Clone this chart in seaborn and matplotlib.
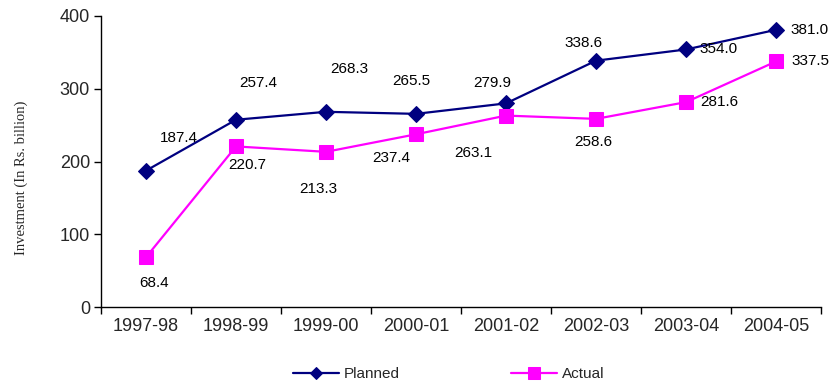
import matplotlib
matplotlib.use("Agg")
import matplotlib.pyplot as plt
from matplotlib.ticker import FixedLocator, NullFormatter
import seaborn as sns
import pandas as pd

years = ["1997-98", "1998-99", "1999-00", "2000-01", "2001-02", "2002-03", "2003-04", "2004-05"]
planned = [187.4, 257.4, 268.3, 265.5, 279.9, 338.6, 354.0, 381.0]
actual = [68.4, 220.7, 213.3, 237.4, 263.1, 258.6, 281.6, 337.5]

# label offsets in pixels (dx, dy) relative to each marker
planned_offsets = [(33, 33), (22, 37), (23, 43), (-5, 33), (-14, 20), (-12, 18), (33, 0), (34, 0)]
actual_offsets = [(8, -26), (11, -19), (-8, -37), (-25, -24), (-33, -37), (-3, -23), (33, 0), (34, 0)]

sns.set_theme(style="white")
plt.rcParams["font.family"] = ["Liberation Sans", "DejaVu Sans"]

df = pd.DataFrame({
    "pos": list(range(len(years))) * 2,
    "value": planned + actual,
    "series": ["Planned"] * len(years) + ["Actual"] * len(years),
})

colors = {"Planned": "#000080", "Actual": "#FF00FF"}
markers = {"Planned": "D", "Actual": "s"}
sizes = {"Planned": 8, "Actual": 10}

fig = plt.figure(figsize=(8.31, 3.85), dpi=100)
ax = fig.add_axes([101 / 831, 78 / 385, 720 / 831, 291 / 385])

for name in ["Planned", "Actual"]:
    sub = df[df["series"] == name]
    sns.lineplot(data=sub, x="pos", y="value", ax=ax, color=colors[name],
                 marker=markers[name], markersize=sizes[name], markeredgecolor=colors[name],
                 linewidth=1.6, label=name, legend=False)

for vals, offs in ((planned, planned_offsets), (actual, actual_offsets)):
    for i, (v, (dx, dy)) in enumerate(zip(vals, offs)):
        ax.annotate(f"{v:.1f}", (i, v), xytext=(dx, dy), textcoords="offset pixels",
                    ha="center", va="center", fontsize=11, color="black")

ax.set_xlim(-0.5, len(years) - 0.5)
ax.set_ylim(0, 400)
ax.set_yticks([0, 100, 200, 300, 400])
ax.xaxis.set_major_locator(FixedLocator([i - 0.5 for i in range(len(years) + 1)]))
ax.xaxis.set_major_formatter(NullFormatter())
ax.xaxis.set_minor_locator(FixedLocator(list(range(len(years)))))
ax.set_xticklabels(years, minor=True)
ax.tick_params(axis="x", which="major", direction="out", length=5, width=1, color="black", bottom=True)
ax.tick_params(axis="x", which="minor", length=0, pad=8, labelsize=13)
ax.tick_params(axis="y", direction="out", length=5, width=1, color="black", left=True, labelsize=13, pad=3)

for side in ("top", "right"):
    ax.spines[side].set_visible(False)
for side in ("left", "bottom"):
    ax.spines[side].set_color("black")
    ax.spines[side].set_linewidth(1)

ax.set_xlabel("")
ax.set_ylabel("Investment (In Rs. billion)", family="Liberation Serif", fontsize=10.5)
ax.yaxis.set_label_coords(-0.101, 0.443)

handles, labels = ax.get_legend_handles_labels()
fig.legend(handles, labels, loc="lower center", bbox_to_anchor=(0.54, -0.025), ncol=2,
           frameon=False, fontsize=11, columnspacing=7.3, handlelength=3.0, handletextpad=0.3,
           markerscale=0.8)

fig.savefig("out.png", dpi=100)
